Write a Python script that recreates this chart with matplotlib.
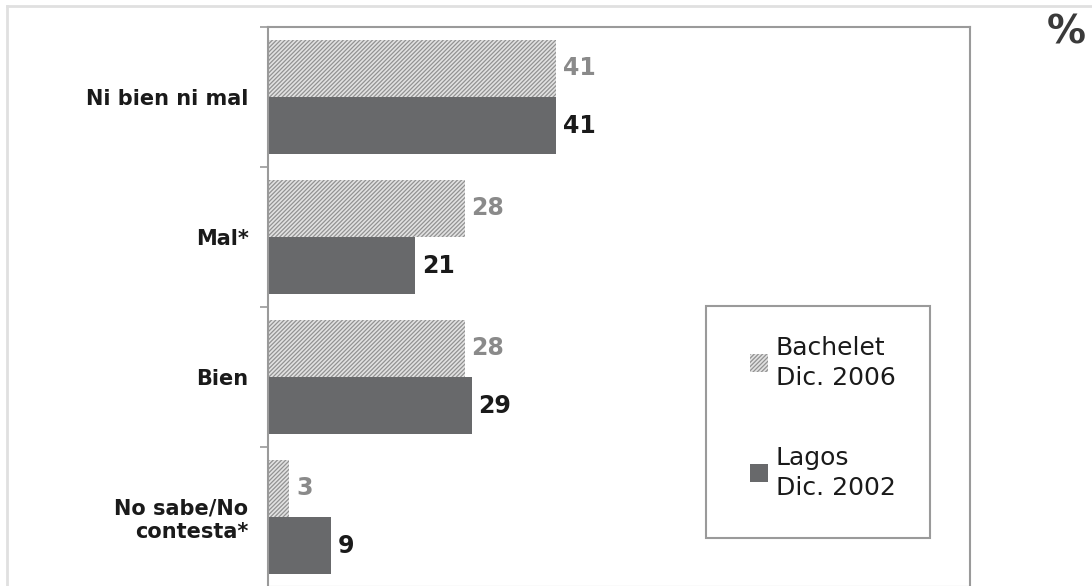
import numpy as np
import matplotlib.pyplot as plt
from matplotlib.lines import Line2D
from matplotlib.patches import Rectangle

plt.rcParams['font.family'] = ['DejaVu Sans']
plt.rcParams['hatch.linewidth'] = 0.9

# data
categories = ['Ni bien ni mal', 'Mal*', 'Bien', 'No sabe/No\ncontesta*']
bachelet = [41, 28, 28, 3]
lagos = [41, 21, 29, 9]
series_labels = ['Bachelet\nDic. 2006', 'Lagos\nDic. 2002']

dark = '#68696b'
hatch_col = '#929292'
light = '#e2e2e2'
hatch = '/' * 8

fig = plt.figure(figsize=(10.92, 5.86), dpi=100)
ax = fig.add_axes([0.2454, -0.0017, 0.6429, 0.9556])

y = np.arange(len(categories))
h = 0.41
ax.barh(y - h / 2, bachelet, height=h, color=light, edgecolor=hatch_col,
        hatch=hatch, linewidth=0)
ax.barh(y + h / 2, lagos, height=h, color=dark, linewidth=0)

for i in range(len(categories)):
    ax.text(bachelet[i] + 1.0, y[i] - h / 2, str(bachelet[i]), va='center', ha='left',
            fontsize=17, fontweight='bold', color='#8a8a8a')
    ax.text(lagos[i] + 1.0, y[i] + h / 2, str(lagos[i]), va='center', ha='left',
            fontsize=17, fontweight='bold', color='#1a1a1a')

ax.set_xlim(0, 100)
ax.set_ylim(len(categories) - 0.5, -0.5)
ax.set_yticks(y)
ax.set_yticklabels(categories, fontsize=15, fontweight='bold', color='#1a1a1a')
ax.set_yticks(np.arange(len(categories) + 1) - 0.5, minor=True)
ax.tick_params(axis='y', which='major', length=0, pad=14)
ax.tick_params(axis='y', which='minor', length=6, color='#999999', width=1.2)
ax.set_xticks([])
for s in ax.spines.values():
    s.set_color('#9a9a9a')
    s.set_linewidth(1.5)

# legend box drawn by hand (squares aligned with first text line)
tr = ax.transAxes
ax.add_patch(Rectangle((0.624, 0.0875), 0.319, 0.4145, transform=tr, fill=False,
                       edgecolor='#9a9a9a', linewidth=1.5, clip_on=False))
leg_styles = [dict(facecolor=light, edgecolor=hatch_col, hatch=hatch, linewidth=0),
              dict(facecolor=dark, linewidth=0)]
leg_y = [0.448, 0.252]
for lab, st, ty in zip(series_labels, leg_styles, leg_y):
    ax.add_patch(Rectangle((0.6866, ty - 0.064), 0.0257, 0.032, transform=tr,
                           clip_on=False, **st))
    ax.text(0.7236, ty, lab, transform=tr, ha='left', va='top', fontsize=18,
            color='#1a1a1a', linespacing=1.3)

fig.text(0.994, 0.945, '%', ha='right', va='center', fontsize=28, fontweight='bold',
         color='#3a3a3a')

# outer frame lines
fig.add_artist(Line2D([0.006, 1], [0.99, 0.99], color='#e0e0e0', lw=2))
fig.add_artist(Line2D([0.006, 0.006], [0, 0.99], color='#e0e0e0', lw=2))

fig.savefig('out.png', dpi=100)
